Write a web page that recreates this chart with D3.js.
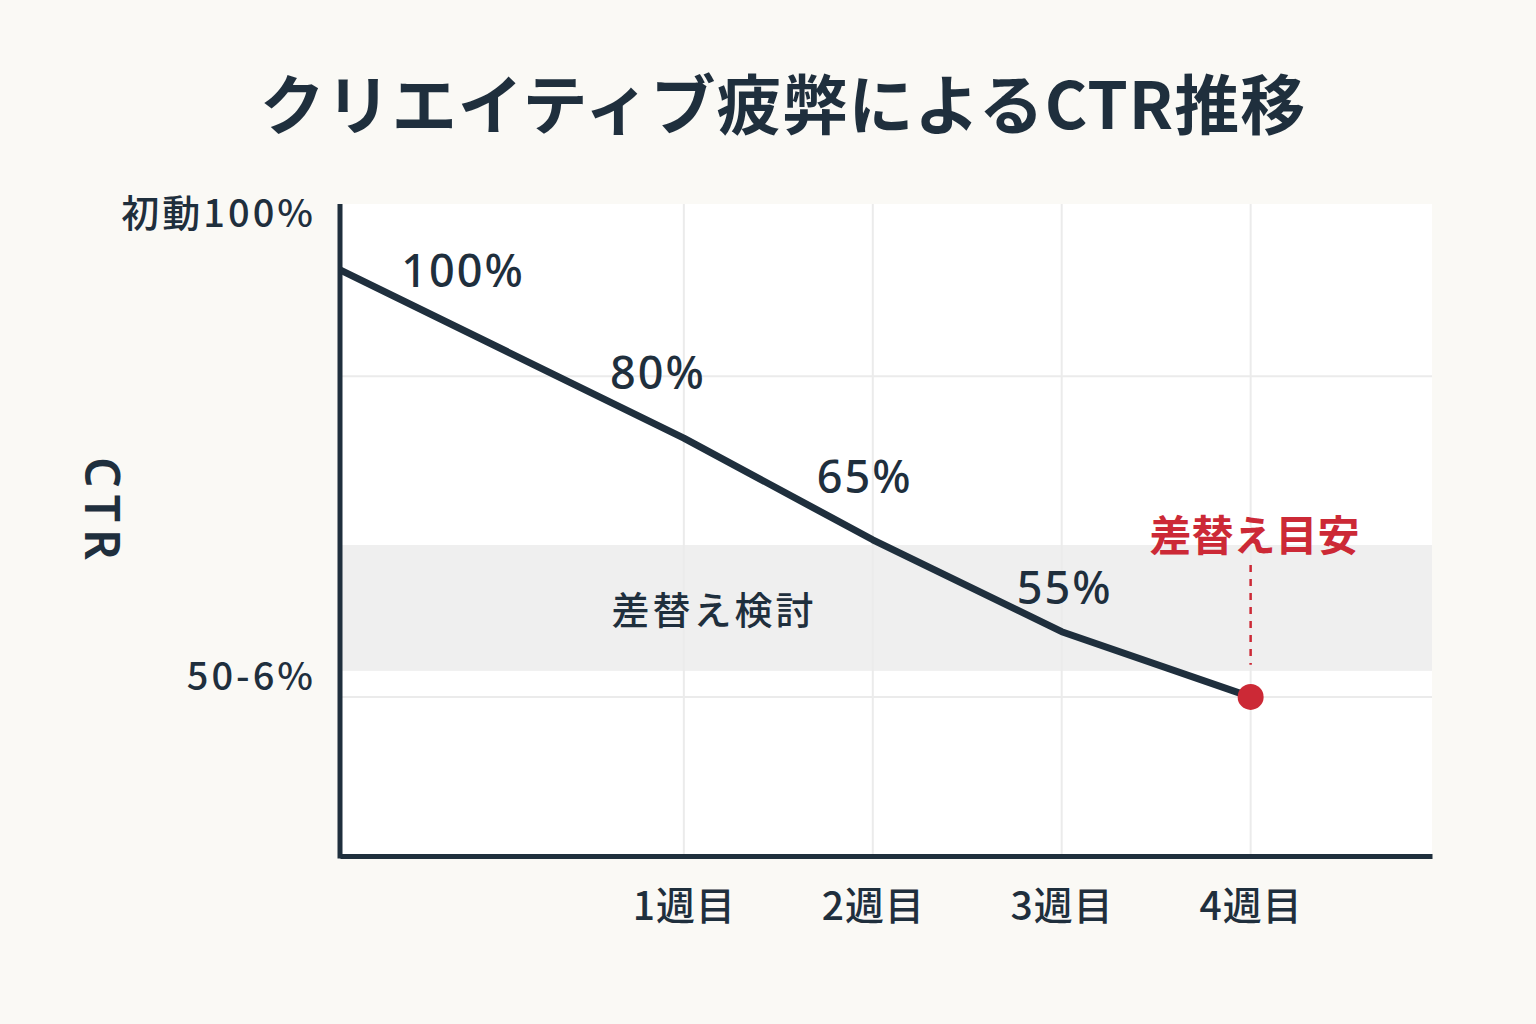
<!DOCTYPE html>
<html lang="ja">
<head>
<meta charset="utf-8">
<script src="https://cdn.jsdelivr.net/npm/d3@7"></script>
<style>
  html, body { margin: 0; padding: 0; background: #faf9f5; }
  svg { display: block; font-family: "Noto Sans CJK JP", "Noto Sans", sans-serif; }
</style>
</head>
<body>
<svg id="chart" width="1536" height="1024"></svg>
<script>
// --- データ ---
const title = 'クリエイティブ疲弊によるCTR推移';
const weeks = [-0.82, 1, 2, 3, 4];            // 初動は軸の起点
const ctrIndex = [89.9, 64.1, 48.5, 34.4, 24.4]; // 縦位置（0-100の相対値）
const pointLabels = ['100%', '80%', '65%', '55%', null];
const xTickValues = [1, 2, 3, 4];
const xTickLabels = ['1週目', '2週目', '3週目', '4週目'];
const yTickValues = [98.6, 27.6];
const yTickLabels = ['初動100%', '50-6%'];
const yGridValues = [73.6, 24.4];
const reviewBand = [28.4, 47.7];   // 差替え検討ゾーン
const replaceWeek = 4;             // 差替え目安

// --- レイアウト ---
const margin = { left: 340, right: 104, top: 204, bottom: 168 };
const width = 1536, height = 1024;
const innerW = width - margin.left - margin.right;
const innerH = height - margin.top - margin.bottom;

const dark = '#1f2f3d';
const red = '#cc2936';

const svg = d3.select('#chart');

const x = d3.scaleLinear().domain([-0.82, 4.96]).range([0, innerW]);
const y = d3.scaleLinear().domain([0, 100]).range([innerH, 0]);

// タイトル
svg.append('text')
  .attr('x', 783).attr('y', 129)
  .attr('text-anchor', 'middle')
  .attr('font-size', 65).attr('font-weight', 700)
  .attr('letter-spacing', 1)
  .attr('fill', dark)
  .text(title);

const g = svg.append('g').attr('transform', `translate(${margin.left},${margin.top})`);

// プロット背景
g.append('rect')
  .attr('width', innerW).attr('height', innerH)
  .attr('fill', '#ffffff');

// 差替え検討の帯
g.append('rect')
  .attr('x', 0).attr('width', innerW)
  .attr('y', y(reviewBand[1]))
  .attr('height', y(reviewBand[0]) - y(reviewBand[1]))
  .attr('fill', '#efefef');

// グリッド
g.selectAll('.vgrid').data(xTickValues).join('line')
  .attr('x1', d => x(d)).attr('x2', d => x(d))
  .attr('y1', 0).attr('y2', innerH)
  .attr('stroke', '#ebebeb').attr('stroke-width', 2);

g.selectAll('.hgrid').data(yGridValues).join('line')
  .attr('x1', 0).attr('x2', innerW)
  .attr('y1', d => y(d)).attr('y2', d => y(d))
  .attr('stroke', '#ebebeb').attr('stroke-width', 2);

g.append('text')
  .attr('x', x(1.16)).attr('y', y((reviewBand[0] + reviewBand[1]) / 2))
  .attr('text-anchor', 'middle').attr('dominant-baseline', 'central')
  .attr('font-size', 38).attr('font-weight', 500)
  .attr('letter-spacing', 3)
  .attr('fill', dark)
  .text('差替え検討');

// 軸
const xAxis = g.append('g')
  .attr('transform', `translate(0,${innerH})`)
  .call(d3.axisBottom(x).tickValues(xTickValues)
    .tickFormat((d, i) => xTickLabels[i]).tickSize(0).tickSizeOuter(0));
xAxis.select('.domain').attr('stroke', dark).attr('stroke-width', 5);
xAxis.selectAll('text')
  .attr('y', 50).attr('dy', '0.35em')
  .attr('font-size', 39).attr('font-weight', 500)
  .attr('letter-spacing', 1)
  .attr('font-family', '"Noto Sans CJK JP", sans-serif')
  .attr('fill', dark);

const yAxis = g.append('g')
  .call(d3.axisLeft(y).tickValues(yTickValues)
    .tickFormat((d, i) => yTickLabels[i]).tickSize(0).tickSizeOuter(0));
yAxis.select('.domain').attr('stroke', dark).attr('stroke-width', 5)
  .attr('d', `M0,0V${innerH + 2.5}`);
yAxis.selectAll('text')
  .attr('x', -24).attr('dy', '0.35em')
  .attr('font-size', 38).attr('font-weight', 500)
  .attr('letter-spacing', 3)
  .attr('font-family', '"Noto Sans CJK JP", sans-serif')
  .attr('fill', dark);

// 縦軸タイトル
svg.append('text')
  .attr('transform', 'translate(103,512) rotate(90)')
  .attr('text-anchor', 'middle').attr('dominant-baseline', 'central')
  .attr('font-size', 48).attr('font-weight', 600)
  .attr('letter-spacing', 7)
  .attr('font-family', '"Noto Sans", sans-serif')
  .attr('fill', dark)
  .text('CTR');

// 折れ線
const pts = weeks.map((w, i) => ({ w, v: ctrIndex[i], label: pointLabels[i] }));
g.append('path')
  .datum(pts)
  .attr('d', d3.line().x(d => x(d.w)).y(d => y(d.v)))
  .attr('fill', 'none').attr('stroke', dark)
  .attr('stroke-width', 7).attr('stroke-linejoin', 'round');

// 値ラベル
const labelOffsets = [[123, 17], [-26, -49], [-8, -47], [3, -28]];
g.selectAll('.vlabel').data(pts.filter(d => d.label)).join('text')
  .attr('x', (d, i) => x(d.w) + labelOffsets[i][0])
  .attr('y', (d, i) => y(d.v) + labelOffsets[i][1])
  .attr('text-anchor', 'middle')
  .attr('font-size', 45).attr('font-weight', 500)
  .attr('letter-spacing', 2)
  .attr('font-family', '"Noto Sans", sans-serif')
  .attr('fill', dark)
  .text(d => d.label);

// 差替え目安
const last = pts[pts.length - 1];
g.append('line')
  .attr('x1', x(replaceWeek)).attr('x2', x(replaceWeek))
  .attr('y1', y(reviewBand[1]) + 20).attr('y2', y(reviewBand[0]) - 6)
  .attr('stroke', red).attr('stroke-width', 2.5)
  .attr('stroke-dasharray', '7,7');

g.append('text')
  .attr('x', x(replaceWeek) + 4).attr('y', y(reviewBand[1]) - 12)
  .attr('text-anchor', 'middle').attr('dominant-baseline', 'central')
  .attr('font-size', 42).attr('font-weight', 700)
  .attr('fill', red)
  .text('差替え目安');

g.append('circle')
  .attr('cx', x(last.w)).attr('cy', y(last.v))
  .attr('r', 13).attr('fill', red);
</script>
</body>
</html>
